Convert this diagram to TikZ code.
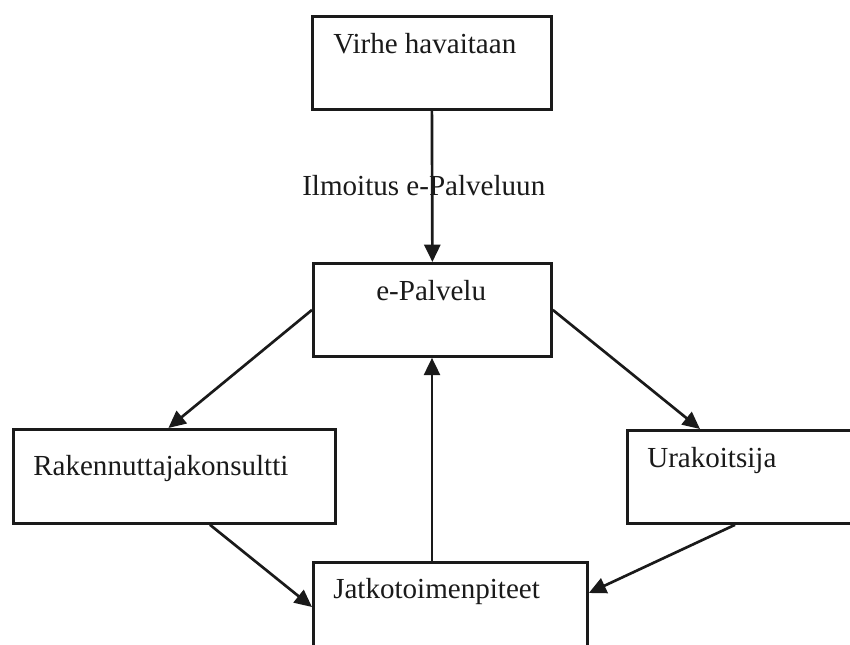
\documentclass[tikz,border=0pt]{standalone}
\usepackage{fontspec}
\setmainfont{Liberation Serif}
\usetikzlibrary{arrows.meta,calc}
\definecolor{ink}{HTML}{1A1A1A}
\begin{document}
\begin{tikzpicture}[x=0.75pt,y=-0.75pt,
  box/.style={draw=ink,line width=2.1pt,inner sep=0pt,anchor=north west,fill=white},
  txt/.style={anchor=base west,inner sep=0pt,text=ink,font=\fontsize{21.8}{26}\selectfont},
  flow/.style={draw=ink,line width=2pt,-{Triangle[length=13pt,width=12pt]}}]
\useasboundingbox (0,0) rectangle (850,644);
\clip (0,0) rectangle (850,644);
\fill[white] (0,0) rectangle (850,644);

% boxes
\node[box,minimum width=179.25pt,minimum height=69.75pt] (top) at (311,15) {};
\node[box,minimum width=178.5pt,minimum height=69.75pt] (epal) at (312,262) {};
\node[box,minimum width=241.5pt,minimum height=70.5pt] (rak) at (12,428) {};
\node[box,minimum width=195pt,minimum height=69.75pt] (ura) at (626,429) {};
\node[box,minimum width=205.5pt,minimum height=90pt] (jat) at (312,561) {};

% box texts
\node[txt] (ttop) at (333,53) {Virhe havaitaan};
\node[txt] (tepal) at (376,300) {e-Palvelu};
\node[txt] (trak) at (33,475) {Rakennuttajakonsultti};
\node[txt] (tura) at (647,467) {Urakoitsija};
\node[txt] (tjat) at (333,598) {Jatkotoimenpiteet};

% connectors
\draw[flow] (top.south) -- (epal.north);
\node[txt] (lbl) at (302,195) {Ilmoitus e-Palveluun};
\draw[flow] (epal.west) -- ($(rak.north)+(-6,0)$);
\draw[flow] (epal.east) -- ($(ura.north west)+(74,0)$);
\coordinate (jin) at ($(jat.north west)+(120,0)$);
\draw[flow] (jin) -- (jin |- epal.south);
\draw[flow] ($(rak.south west)+(198,0)$) -- ($(jat.north west)+(0,46)$);
\draw[flow] ($(ura.south west)+(109,0)$) -- ($(jat.north east)+(0,32)$);
\end{tikzpicture}
\end{document}
